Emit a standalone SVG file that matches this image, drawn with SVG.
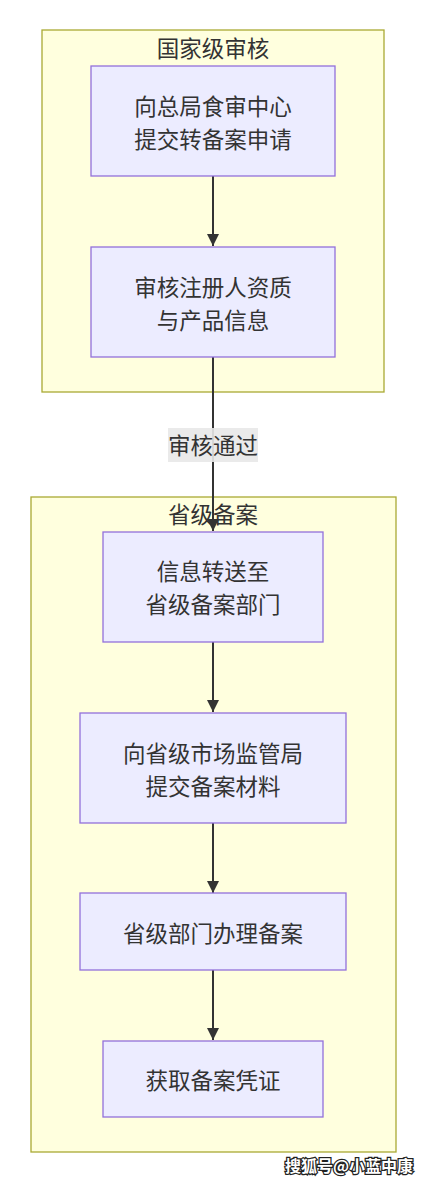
<svg xmlns="http://www.w3.org/2000/svg" width="426" height="1183" viewBox="0 0 426 1183">
<style>
.cluster{fill:#ffffde;stroke:#aaaa33;stroke-width:1.3}
.node{fill:#ececff;stroke:#9370db;stroke-width:1.3}
.t{font-family:"Noto Sans CJK SC","Noto Sans",sans-serif;font-size:22.5px;fill:#333333;text-anchor:middle;dominant-baseline:central}
.edge{stroke:#333333;stroke-width:2;fill:none}
.wm{font-family:"Noto Sans CJK SC",sans-serif;font-size:16px;font-weight:bold;fill:#ffffff;stroke:#222222;stroke-width:2.5;paint-order:stroke;text-anchor:middle;dominant-baseline:central}
</style>
<defs>
<marker id="arrow" viewBox="0 0 10 10" refX="10" refY="5" markerWidth="6" markerHeight="6" orient="auto" markerUnits="strokeWidth">
<path d="M0,0 L10,5 L0,10 z" fill="#333333"/>
</marker>
</defs>
<rect width="426" height="1183" fill="#ffffff"/>
<g id="cluster-national">
<rect class="cluster" x="42" y="30" width="342" height="362"/>
<text class="t" x="213" y="47">国家级审核</text>
</g>
<g id="cluster-provincial">
<rect class="cluster" x="31" y="497" width="365" height="655"/>
<text class="t" x="213" y="513">省级备案</text>
</g>
<g id="connectors">
<line class="edge" x1="213" y1="176" x2="213" y2="246" marker-end="url(#arrow)"/>
<line class="edge" x1="213" y1="357" x2="213" y2="531" marker-end="url(#arrow)"/>
<line class="edge" x1="213" y1="642" x2="213" y2="712" marker-end="url(#arrow)"/>
<line class="edge" x1="213" y1="823" x2="213" y2="893" marker-end="url(#arrow)"/>
<line class="edge" x1="213" y1="970" x2="213" y2="1040" marker-end="url(#arrow)"/>
<g id="edge-label">
<rect x="168" y="428" width="90" height="34" fill="#e8e8e8" fill-opacity="0.9"/>
<text class="t" x="213" y="444">审核通过</text>
</g>
</g>
<g id="node-submit">
<rect class="node" x="91" y="66" width="244" height="110"/>
<text class="t" x="213" y="105">向总局食审中心</text>
<text class="t" x="213" y="138">提交转备案申请</text>
</g>
<g id="node-review">
<rect class="node" x="91" y="247" width="244" height="110"/>
<text class="t" x="213" y="286">审核注册人资质</text>
<text class="t" x="213" y="319">与产品信息</text>
</g>
<g id="node-transfer">
<rect class="node" x="103" y="532" width="220" height="110"/>
<text class="t" x="213" y="570">信息转送至</text>
<text class="t" x="213" y="603">省级备案部门</text>
</g>
<g id="node-materials">
<rect class="node" x="80" y="713" width="266" height="110"/>
<text class="t" x="213" y="752">向省级市场监管局</text>
<text class="t" x="213" y="785">提交备案材料</text>
</g>
<g id="node-process">
<rect class="node" x="80" y="893" width="266" height="77"/>
<text class="t" x="213" y="932">省级部门办理备案</text>
</g>
<g id="node-certificate">
<rect class="node" x="103" y="1041" width="220" height="76"/>
<text class="t" x="213" y="1079">获取备案凭证</text>
</g>
<text class="wm" x="349" y="1165">搜狐号@小蓝中康</text>
</svg>
